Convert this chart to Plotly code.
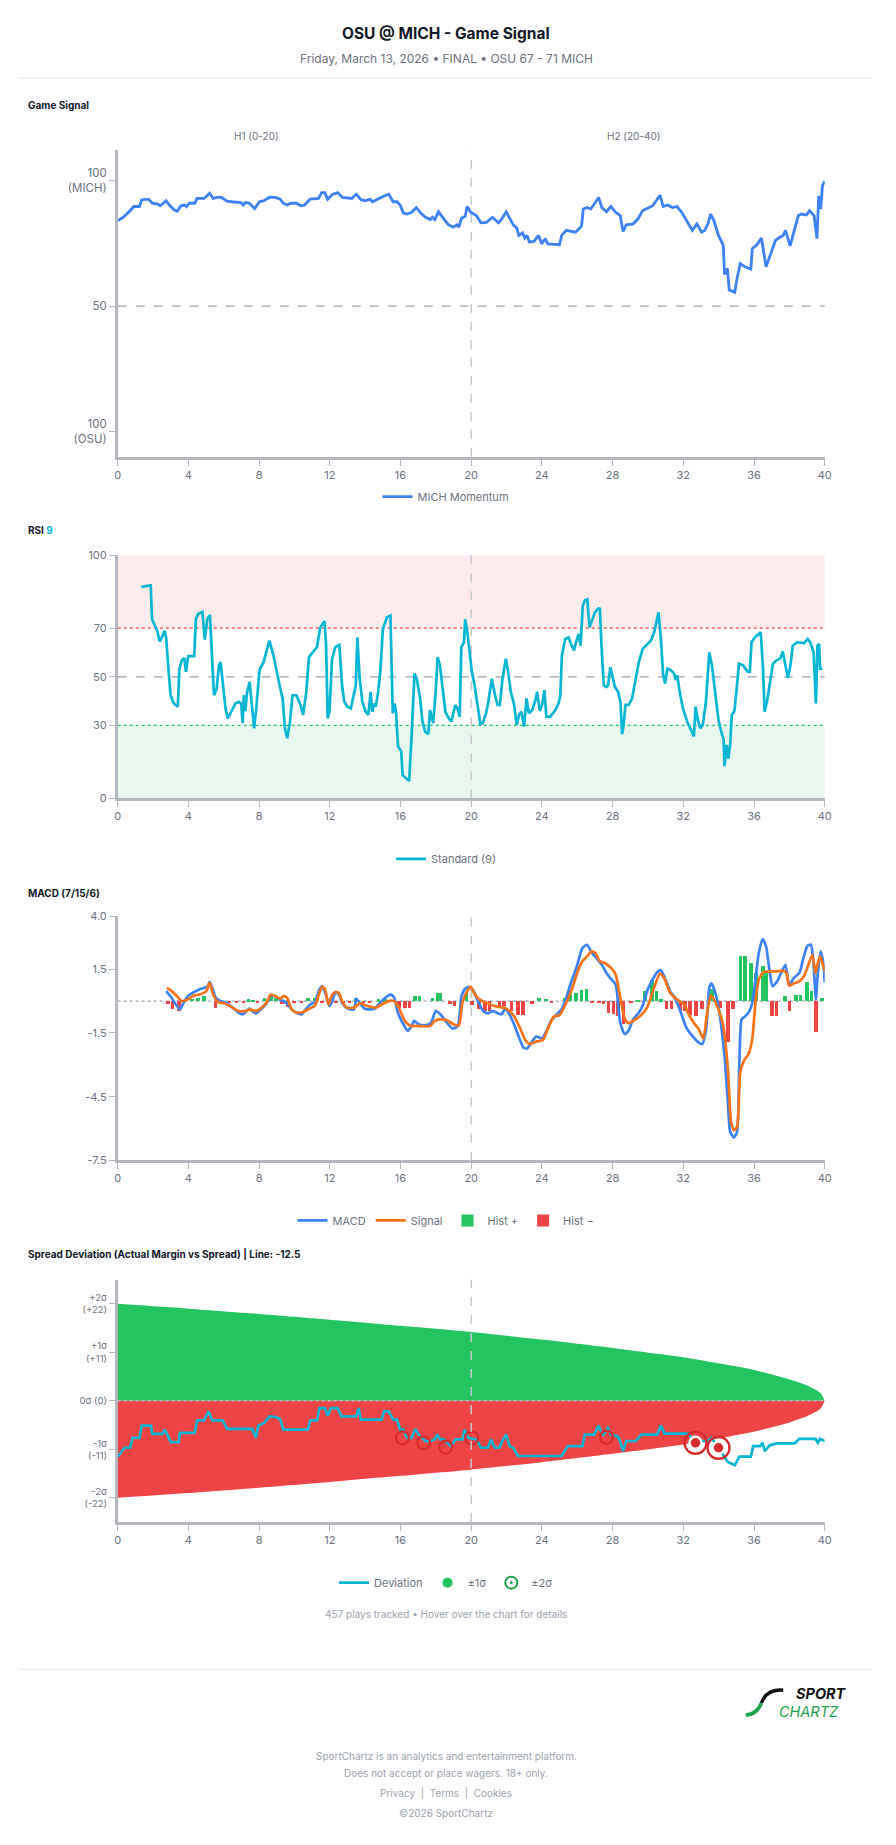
import plotly.graph_objects as go

# ---------------- DATA ----------------
x_ticks = [0, 4, 8, 12, 16, 20, 24, 28, 32, 36, 40]

# Game signal (MICH momentum, 0 = OSU 100, 100 = MICH 100)
gs_t = [0.00, 0.31, 0.70, 0.91, 1.23, 1.36, 1.75, 1.96, 2.27, 2.40, 2.58, 2.74, 2.92, 3.19, 3.37, 3.58, 3.79, 3.89,
        4.05, 4.36, 4.49, 4.75, 4.88, 5.01, 5.20, 5.40, 5.61, 5.87, 6.19, 6.45, 6.97, 7.10, 7.23, 7.44, 7.75, 8.02,
        8.28, 8.59, 8.93, 9.19, 9.37, 9.58, 9.79, 10.10, 10.37, 10.57, 10.89, 11.36, 11.54, 11.72, 11.88, 12.14,
        12.45, 12.72, 13.24, 13.50, 13.76, 14.02, 14.28, 14.41, 14.67, 15.07, 15.33, 15.46, 15.59, 15.80, 15.98,
        16.16, 16.37, 16.63, 16.89, 17.10, 17.42, 17.68, 17.81, 17.94, 18.15, 18.46, 18.72, 18.98, 19.19, 19.30,
        19.45, 19.66, 19.77, 19.97, 20.29, 20.55, 20.86, 21.20, 21.54, 21.72, 21.98, 22.38, 22.58, 22.69, 22.90,
        23.03, 23.16, 23.29, 23.55, 23.81, 23.99, 24.20, 24.33, 24.99, 25.12, 25.38, 25.77, 25.90, 26.24, 26.34,
        26.55, 26.76, 27.02, 27.21, 27.39, 27.65, 27.91, 28.17, 28.43, 28.59, 28.77, 29.16, 29.43, 29.69, 29.95,
        30.26, 30.47, 30.68, 30.86, 31.12, 31.38, 31.64, 31.91, 32.17, 32.51, 32.77, 33.03, 33.21, 33.39, 33.55,
        33.73, 33.99, 34.26, 34.33, 34.49, 34.60, 34.91, 35.04, 35.22, 35.48, 35.82, 35.90, 36.16, 36.42, 36.53,
        36.68, 36.95, 37.21, 37.47, 37.65, 37.78, 38.04, 38.25, 38.51, 38.69, 38.96, 39.14, 39.40, 39.56, 39.66,
        39.77, 39.87, 40.00]
gs_v = [84.0, 85.3, 87.9, 89.6, 89.6, 92.3, 92.5, 90.9, 90.6, 89.9, 90.9, 91.9, 90.2, 88.3, 87.7, 89.9, 90.2, 89.5,
        90.9, 90.9, 92.8, 93.0, 92.8, 93.6, 94.9, 92.8, 93.2, 93.2, 91.7, 91.5, 91.2, 90.2, 91.2, 90.9, 88.8, 91.5,
        91.9, 93.3, 93.2, 92.5, 90.9, 90.2, 90.9, 90.9, 89.9, 90.2, 92.5, 92.8, 95.1, 95.1, 92.5, 94.4,
        95.1, 93.2, 92.8, 94.5, 92.3, 91.9, 92.5, 91.5, 92.5, 93.8, 94.5, 93.2, 91.5, 91.5, 90.2,
        87.0, 86.6, 87.3, 89.2, 87.3, 85.3, 84.4, 85.3, 84.4, 87.5, 84.6, 82.3, 81.4, 82.3, 81.4,
        84.9, 85.7, 89.6, 87.3, 86.0, 83.1, 83.3, 85.3, 83.1, 84.6, 87.5, 82.3, 81.0, 78.1, 79.1,
        77.0, 78.1, 75.5, 75.7, 78.1, 74.8, 76.8, 74.7, 74.4, 78.1, 80.1, 79.7, 79.4, 81.8, 88.6,
        89.2, 88.6, 91.2, 93.2, 89.2, 87.5, 89.6, 87.3, 86.0, 79.7, 82.3, 82.7, 84.6, 87.9, 88.8,
        89.9, 91.9, 94.1, 89.6, 90.2, 89.2, 89.6, 87.3, 84.0, 80.1, 82.7, 79.4, 80.1, 82.7, 86.6,
        84.0, 78.1, 74.1, 62.6, 65.0, 56.4, 55.5, 61.0, 66.9, 65.6, 64.7, 72.8, 74.4, 77.0, 71.5,
        65.6, 70.9, 76.1, 77.4, 78.1, 80.1, 73.9, 79.4, 86.0, 86.6, 86.2, 87.9, 86.0, 76.8, 93.8,
        88.6, 97.8, 99.7]

# RSI (9)
rsi_t = [1.34, 1.87, 1.94, 2.09, 2.24, 2.37, 2.50, 2.65, 2.74, 2.84, 2.99, 3.17, 3.40, 3.49, 3.62, 3.77, 3.86, 3.99,
         4.33, 4.42, 4.55, 4.79, 4.93, 5.07, 5.22, 5.35, 5.45, 5.60, 5.73, 5.82, 5.97, 6.10, 6.23, 6.42, 6.66, 6.85,
         6.98, 7.07, 7.13, 7.22, 7.31, 7.46, 7.59, 7.72, 7.84, 8.02, 8.25, 8.40, 8.58, 8.81, 8.99, 9.18, 9.33, 9.46,
         9.59, 9.74, 9.89, 10.11, 10.34, 10.49, 10.67, 10.82, 11.04, 11.27, 11.46, 11.70, 11.79, 11.88, 11.98, 12.13,
         12.31, 12.54, 12.69, 12.82, 13.00, 13.19, 13.47, 13.56, 13.69, 13.84, 14.03, 14.18, 14.31, 14.40, 14.50,
         14.59, 14.74, 14.87, 15.00, 15.24, 15.43, 15.49, 15.56, 15.67, 15.75, 15.86, 16.04, 16.12, 16.42, 16.49,
         16.64, 16.79, 16.92, 17.11, 17.24, 17.39, 17.57, 17.67, 17.76, 17.85, 17.99, 18.10, 18.23, 18.36, 18.54,
         18.73, 18.88, 19.10, 19.22, 19.35, 19.44, 19.59, 19.66, 19.78, 19.85, 20.04, 20.19, 20.34, 20.52, 20.65,
         20.84, 20.97, 21.16, 21.31, 21.49, 21.62, 21.77, 21.96, 22.09, 22.24, 22.43, 22.57, 22.71, 22.84, 22.99,
         23.13, 23.26, 23.45, 23.63, 23.73, 23.88, 24.01, 24.14, 24.25, 24.48, 24.76, 24.94, 25.04, 25.13, 25.32,
         25.50, 25.69, 25.82, 25.93, 26.07, 26.19, 26.31, 26.44, 26.57, 26.69, 26.81, 27.00, 27.18, 27.28, 27.37,
         27.50, 27.65, 27.74, 27.87, 27.99, 28.13, 28.31, 28.44, 28.54, 28.62, 28.73, 28.92, 29.10, 29.29, 29.48,
         29.70, 29.98, 30.17, 30.35, 30.60, 30.73, 30.86, 30.97, 31.10, 31.29, 31.48, 31.57, 31.66, 31.79, 31.98,
         32.22, 32.41, 32.60, 32.69, 32.84, 32.97, 33.10, 33.28, 33.47, 33.62, 33.81, 33.99, 34.14, 34.28, 34.33,
         34.46, 34.55, 34.65, 34.74, 34.89, 35.02, 35.15, 35.39, 35.63, 35.76, 35.86, 36.04, 36.23, 36.38, 36.51,
         36.60, 36.75, 36.88, 37.07, 37.26, 37.50, 37.63, 37.76, 37.91, 38.06, 38.19, 38.43, 38.66, 38.84, 39.03,
         39.18, 39.37, 39.50, 39.59, 39.68, 39.74, 39.87]
rsi_v = [87.0, 87.6, 73.7, 71.2, 69.0, 64.5, 66.2, 69.0, 66.2, 56.0, 42.4, 39.0, 37.7, 53.3, 56.7, 57.7, 52.0, 58.5,
         58.5, 73.7, 75.8, 76.7, 65.3, 73.7, 75.4, 56.0, 42.4, 45.2, 54.7, 56.0, 46.5, 36.9, 32.9, 35.6, 39.0, 39.7,
         39.0, 30.9, 42.4, 35.9, 43.1, 47.9, 38.4, 28.8, 37.0, 52.7, 56.0, 60.1, 64.9, 58.8, 52.0, 45.8, 41.1, 28.8,
         24.7, 30.9, 42.4, 42.4, 38.4, 34.3, 43.8, 58.1, 60.1, 62.2, 70.3, 73.0, 62.8, 32.9, 35.6, 57.4,
         62.2, 63.1, 46.5, 39.7, 37.7, 37.0, 46.5, 66.2, 49.2, 39.7, 35.6, 34.3, 43.8, 35.6, 39.0,
         37.7, 43.8, 53.3, 69.7, 74.5, 75.2, 53.3, 35.0, 39.0, 35.0, 21.4, 19.3, 9.5, 7.7, 7.1,
         27.5, 51.3, 49.2, 41.1, 31.5, 27.5, 26.4, 36.3, 33.6, 30.9, 43.8, 58.1, 54.7, 46.5, 35.6,
         32.9, 31.5, 38.4, 37.0, 33.6, 62.2, 64.2, 73.7, 68.3, 63.5, 52.0, 46.5, 39.7, 30.5, 30.9,
         35.0, 39.7, 49.2, 43.8, 38.4, 38.4, 49.2, 57.4, 52.0, 43.8, 38.4, 30.2, 34.3, 35.6, 29.5,
         41.1, 35.0, 36.3, 40.4, 43.8, 35.9, 38.4, 44.5, 33.6, 33.6, 36.3, 39.0, 42.4, 58.8, 65.6,
         66.2, 62.8, 60.8, 64.2, 67.6, 62.8, 79.2, 81.6, 81.9, 70.3, 72.4, 76.5, 78.1, 78.0, 62.8,
         46.5, 45.8, 46.5, 54.0, 50.6, 45.8, 43.8, 39.7, 26.4, 30.2, 38.4, 38.4, 41.1, 47.9, 56.0,
         61.5, 63.5, 64.9, 68.3, 76.5, 65.6, 50.6, 47.2, 53.3, 52.7, 51.3, 48.6, 50.6, 43.8, 37.0,
         31.5, 28.1, 25.4, 37.7, 31.5, 28.8, 30.2, 39.7, 60.1, 54.7, 42.4, 32.2, 27.5, 24.1, 13.2,
         22.0, 16.3, 22.0, 34.3, 35.9, 45.2, 55.4, 54.7, 52.2, 52.0, 64.2, 66.2, 67.6, 68.3, 53.3,
         35.6, 40.4, 46.5, 55.4, 56.7, 57.7, 60.4, 56.0, 49.5, 54.7, 62.8, 64.2, 64.2, 63.9, 65.6,
         64.2, 60.1, 39.0, 62.8, 63.5, 53.3, 53.3]

# MACD (7/15/6)
macd_t = [2.74, 3.05, 3.32, 3.52, 3.71, 3.97, 4.31, 4.62, 4.88, 5.09, 5.20, 5.35, 5.54, 5.80, 6.14, 6.50, 6.84, 7.10,
          7.44, 7.62, 7.81, 8.07, 8.41, 8.67, 8.93, 9.19, 9.37, 9.58, 9.84, 10.10, 10.42, 10.63, 10.89, 11.15, 11.41,
          11.57, 11.80, 11.98, 12.14, 12.32, 12.51, 12.72, 13.03, 13.37, 13.50, 13.76, 13.97, 14.23, 14.54, 14.75,
          15.07, 15.46, 15.64, 15.85, 16.11, 16.42, 16.63, 16.76, 17.02, 17.42, 17.73, 17.99, 18.25, 18.59, 18.93,
          19.24, 19.45, 19.66, 19.90, 20.08, 20.34, 20.68, 20.94, 21.20, 21.46, 21.72, 21.91, 22.11, 22.38, 22.64,
          22.95, 23.16, 23.47, 23.68, 24.00, 24.26, 24.52, 24.78, 25.12, 25.38, 25.64, 25.98, 26.29, 26.55, 26.81,
          27.08, 27.39, 27.65, 27.91, 28.17, 28.43, 28.69, 28.90, 29.16, 29.48, 29.69, 30.00, 30.26, 30.52, 30.73,
          30.99, 31.25, 31.51, 31.83, 32.17, 32.51, 32.87, 33.08, 33.29, 33.47, 33.60, 33.86, 34.07, 34.33, 34.52,
          34.65, 34.86, 35.04, 35.17, 35.30, 35.48, 35.74, 35.90, 36.08, 36.27, 36.48, 36.68, 36.87, 37.05, 37.31,
          37.57, 37.78, 37.99, 38.25, 38.56, 38.82, 39.03, 39.22, 39.35, 39.50, 39.61, 39.77, 39.92, 40.00]
macd_v = [0.47, 0.16, -0.20, -0.39, -0.11, 0.23, 0.42, 0.55, 0.62, 0.70, 0.90, 0.62, 0.16, 0.00, -0.08, -0.31, -0.55,
          -0.62, -0.36, -0.47, -0.58, -0.42, -0.11, 0.26, 0.23, 0.05, 0.00, -0.11, -0.39, -0.55, -0.62, -0.39, -0.16,
          -0.05, 0.55, 0.70, 0.23, -0.23, 0.00, 0.42, 0.31, -0.11, -0.36, -0.39, 0.11, -0.16, -0.36, -0.39, -0.36,
          -0.16, 0.11, 0.30, 0.16, -0.55, -1.01, -1.40, -1.17, -0.93, -1.09, -1.14, -1.01, -0.47, -0.62, -0.98,
          -1.29, -1.17, 0.23, 0.58, 0.67, 0.55, 0.08, -0.47, -0.58, -0.47, -0.55, -0.62, -0.36, -0.55, -1.01,
          -1.56, -2.18, -2.23, -1.87, -1.67, -1.76, -1.40, -0.93, -0.67, -0.39, 0.16, 0.86, 1.64, 2.49, 2.65,
          2.29, 2.02, 1.71, 1.32, 1.04, 0.78, -1.01, -1.56, -1.40, -0.86, -0.55, -0.23, 0.58, 1.01, 1.36, 1.45,
          1.01, 0.47, 0.16, -0.47, -1.25, -1.64, -1.95, -2.02, -1.32, 0.62, 0.83, 0.23, -0.70, -2.57, -4.75,
          -6.15, -6.42, -6.15, -2.88, -0.86, -0.73, -0.47, -0.08, 1.01, 2.26, 2.91, 2.57, 1.48, 0.70, 0.93,
          1.40, 1.71, 0.73, 1.09, 1.32, 2.10, 2.60, 2.65, 1.95, 0.08, 1.32, 2.34, 1.79, 0.89]
sig_t = [2.79, 3.05, 3.32, 3.63, 3.97, 4.31, 4.62, 5.01, 5.20, 5.40, 5.67, 6.06, 6.40, 6.84, 7.23, 7.49, 7.81, 8.15,
         8.41, 8.67, 8.93, 9.19, 9.37, 9.58, 9.84, 10.16, 10.50, 10.76, 11.15, 11.41, 11.57, 11.72, 11.93, 12.14,
         12.32, 12.51, 12.72, 12.98, 13.37, 13.71, 14.02, 14.28, 14.60, 14.93, 15.33, 15.64, 15.90, 16.24, 16.58,
         16.95, 17.68, 17.94, 18.25, 18.59, 18.98, 19.30, 19.50, 19.71, 19.97, 20.16, 20.42, 20.76, 21.07, 21.46,
         21.91, 22.17, 22.43, 22.77, 23.03, 23.29, 23.63, 24.07, 24.33, 24.67, 24.99, 25.38, 25.72, 26.03, 26.29,
         26.55, 26.81, 27.02, 27.28, 27.55, 27.91, 28.17, 28.43, 28.69, 28.90, 29.16, 29.56, 29.95, 30.34, 30.68,
         30.94, 31.25, 31.64, 32.04, 32.35, 32.61, 32.87, 33.13, 33.34, 33.55, 33.73, 33.99, 34.26, 34.52, 34.70,
         34.86, 35.04, 35.22, 35.43, 35.69, 35.90, 36.08, 36.27, 36.53, 36.87, 37.26, 37.78, 37.99, 38.25, 38.56,
         38.82, 39.08, 39.30, 39.48, 39.61, 39.74, 39.87, 40.00]
sig_v = [0.62, 0.47, 0.26, 0.00, 0.08, 0.26, 0.31, 0.47, 0.86, 0.31, -0.05, -0.11, -0.26, -0.47, -0.47, -0.39, -0.47,
         -0.31, -0.08, 0.31, 0.23, 0.11, 0.23, 0.16, -0.39, -0.55, -0.51, -0.39, -0.23, 0.39, 0.67, 0.58, -0.16,
         0.31, 0.42, 0.39, -0.05, -0.31, -0.31, -0.11, -0.20, -0.26, -0.31, -0.16, 0.00, 0.00, -0.31, -0.93,
         -1.17, -1.17, -1.17, -0.93, -0.86, -0.89, -1.09, -1.14, -0.08, 0.36, 0.67, 0.39, 0.11, -0.05, -0.16,
         -0.26, -0.33, -0.47, -0.73, -1.29, -1.79, -2.02, -1.92, -1.82, -1.32, -0.73, -0.67, -0.08, 0.62, 1.40,
         1.87, 2.10, 2.34, 2.26, 1.87, 1.79, 1.56, 1.25, 0.16, -0.83, -1.04, -0.93, -0.70, -0.31, 0.62, 1.29,
         1.04, 0.39, 0.08, -0.16, -0.70, -1.04, -1.32, -1.76, -0.62, 0.26, 0.08, -0.39, -1.17, -3.19, -5.69,
         -6.07, -5.92, -3.35, -2.80, -2.49, -1.79, -0.08, 1.01, 1.36, 1.40, 1.40, 1.40, 0.73, 0.83, 0.93,
         1.17, 1.71, 2.18, 1.32, 1.79, 2.10, 1.79, 1.40]

hist_pos_t = [3.86, 4.20, 4.52, 4.88, 7.39, 7.65, 8.28, 8.67, 8.93, 10.76, 11.15, 13.45, 14.75, 15.12, 16.79, 17.05,
              17.78, 18.07, 18.25, 19.71, 23.81, 24.20, 25.25, 25.56, 25.90, 26.21, 26.50, 29.43, 29.82, 30.21,
              30.47, 30.73, 33.60, 35.22, 35.48, 35.80, 36.11, 36.48, 36.68, 37.73, 38.36, 38.62, 38.98, 39.24, 39.82]
hist_pos_v = [0.11, 0.11, 0.16, 0.23, 0.08, 0.05, 0.16, 0.26, 0.16, 0.16, 0.16, 0.16, 0.08, 0.08, 0.23, 0.23,
              0.16, 0.39, 0.39, 0.39, 0.16, 0.11, 0.16, 0.58, 0.39, 0.51, 0.55, 0.05, 0.47, 1.01,
              0.47, 0.08, 0.55, 2.13, 2.13, 1.79, 1.32, 1.64, 1.36, 0.23, 0.26, 0.26, 0.89, 0.47, 0.16]
hist_neg_t = [2.82, 3.08, 3.45, 5.51, 5.93, 6.32, 6.71, 7.10, 7.89, 9.27, 9.58, 9.97, 10.37, 11.54, 11.93, 12.32,
              12.72, 13.11, 13.89, 14.23, 15.90, 16.24, 16.50, 18.77, 19.03, 20.03, 20.42, 20.76, 21.02, 21.59,
              21.85, 22.25, 22.64, 22.90, 23.42, 24.52, 26.81, 27.21, 27.47, 27.75, 28.02, 28.28, 28.59, 29.03,
              31.04, 31.31, 31.83, 32.09, 32.35, 32.69, 33.03, 34.07, 34.52, 34.78, 37.00, 37.26, 37.99, 39.50]
hist_neg_v = [-0.16, -0.36, -0.47, -0.31, -0.08, -0.08, -0.08, -0.08, -0.08, -0.16, -0.26, -0.11, -0.08, -0.08,
              -0.08, -0.08, -0.08, -0.08, -0.08, -0.08, -0.31, -0.31, -0.31, -0.16, -0.23, -0.20, -0.39, -0.47,
              -0.47, -0.31, -0.23, -0.47, -0.67, -0.67, -0.16, -0.11, -0.11, -0.11, -0.16, -0.55, -0.62, -0.70,
              -1.09, -0.08, -0.36, -0.36, -0.47, -0.47, -0.67, -0.70, -0.36, -0.31, -1.95, -0.36, -0.70, -0.70,
              -0.47, -1.45]

# Spread deviation (actual margin vs spread, points)
dev_t = [0.00, 0.18, 0.39, 0.70, 0.84, 1.23, 1.36, 1.88, 1.96, 2.53, 2.66, 2.79, 3.00, 3.45, 3.52, 4.36, 4.49, 4.88,
         5.14, 5.35, 5.93, 6.19, 7.62, 7.81, 7.96, 8.28, 8.59, 8.93, 9.19, 9.37, 10.76, 10.89, 11.28, 11.41, 11.72,
         11.88, 12.06, 12.45, 12.66, 13.50, 13.63, 13.76, 14.93, 15.07, 15.33, 15.59, 15.80, 15.98, 16.16, 16.37,
         16.63, 16.84, 17.02, 17.42, 17.68, 17.94, 18.07, 18.25, 18.46, 18.85, 19.11, 19.50, 19.63, 19.82, 20.29,
         20.55, 20.94, 21.12, 21.33, 21.59, 21.80, 21.98, 22.17, 22.38, 22.64, 25.12, 25.46, 26.29, 26.42, 26.95,
         27.21, 27.34, 27.47, 27.73, 27.91, 28.25, 28.38, 28.59, 28.77, 29.30, 29.63, 30.52, 30.73, 30.94, 32.30,
         32.56, 33.34, 33.60, 33.99, 34.26, 34.52, 34.91, 35.17, 35.82, 35.95, 36.34, 36.48, 36.61, 36.87, 37.26,
         38.30, 38.56, 39.48, 39.61, 39.74, 40.00]
dev_v = [-12.66, -11.76, -10.64, -10.64, -8.39, -8.39, -5.62, -5.62, -7.49, -7.49, -6.52, -7.49, -9.36, -9.36, -7.27,
         -7.27, -4.42, -4.42, -2.40, -4.42, -4.42, -6.37, -6.37, -8.39, -5.62, -5.02, -3.52, -3.67, -4.12, -6.52,
         -6.52, -4.42, -4.42, -1.65, -1.65, -3.37, -1.65, -1.65, -3.52, -3.52, -1.65, -4.27, -4.27, -2.40, -2.40,
         -4.27, -4.27, -6.52, -6.52, -8.39, -8.39, -6.37, -7.64, -9.14, -9.14, -8.76, -7.64, -8.76, -8.76, -10.26,
         -8.76, -8.76, -6.52, -8.39, -8.76, -10.64, -10.64, -8.76, -10.64, -10.64, -8.76, -7.64, -10.26, -10.64,
         -12.51, -12.51, -10.26, -10.26, -7.64, -7.64, -5.62, -6.89, -7.64, -6.14, -7.64, -8.01, -8.61, -11.39,
         -9.14, -9.14, -7.64, -7.64, -5.62, -7.42, -7.42, -9.14, -9.14, -8.39, -10.64, -12.13, -13.86, -14.61,
         -12.66, -12.66, -10.26, -10.26, -9.51, -11.39, -10.11, -9.66, -9.66, -8.61, -8.61, -9.51, -8.61, -9.14]

# sigma envelope (points)
band_t = [0, 4, 8, 12, 16, 20, 24, 28, 32, 34, 36, 37, 38, 39, 39.5, 39.8, 40]
band_hi = [22.0, 20.9, 19.7, 18.4, 17.0, 15.6, 13.9, 12.0, 9.9, 8.5, 7.0, 6.0, 4.9, 3.5, 2.5, 1.6, 0.0]
band_lo = [-22.0, -20.9, -19.7, -18.4, -17.0, -15.6, -13.9, -12.0, -9.9, -8.5, -7.0, -6.0, -4.9, -3.5, -2.5, -1.6, 0.0]

# flagged plays (+-1 sigma rings / +-2 sigma double rings)
flag1_t = [16.11, 17.31, 18.56, 20.03, 27.65]
flag1_v = [-8.39, -9.51, -10.49, -8.39, -8.24]
flag2_t = [32.69, 33.99]
flag2_v = [-9.51, -10.64]

# ---------------- LAYOUT HELPERS ----------------
W, H = 896, 1845
FONT = "Inter, 'Noto Sans', sans-serif"
AXC = "#b4b7bd"
TICKC = "#6b7280"
BLUE = "#3b82f6"
ORANGE = "#f97316"
CYAN = "#06b6d4"
GREEN = "#22c55e"
RED = "#ef4444"


def px(x):
    return x / W


def py(y):
    return 1 - y / H


X0, X1 = 116, 831
PANELS = [(144.3, 453.3), (552.5, 797.3), (916.0, 1162.3), (1282.3, 1526.7)]

fig = go.Figure()

# Panel 1: game signal
fig.add_trace(go.Scatter(x=gs_t, y=gs_v, mode="lines", name="MICH Momentum",
                         line=dict(color=BLUE, width=2.8), xaxis="x", yaxis="y", legend="legend"))

# Panel 2: RSI
fig.add_trace(go.Scatter(x=rsi_t, y=rsi_v, mode="lines", name="Standard (9)",
                         line=dict(color=CYAN, width=2.7), xaxis="x2", yaxis="y2", legend="legend2"))

# Panel 3: MACD
fig.add_trace(go.Bar(x=hist_pos_t, y=hist_pos_v, name="Hist +", marker=dict(color=GREEN, line=dict(width=0)),
                     width=0.2, xaxis="x3", yaxis="y3", legend="legend3", legendrank=3))
fig.add_trace(go.Bar(x=hist_neg_t, y=hist_neg_v, name="Hist −", marker=dict(color=RED, line=dict(width=0)),
                     width=0.2, xaxis="x3", yaxis="y3", legend="legend3", legendrank=4))
fig.add_trace(go.Scatter(x=macd_t, y=macd_v, mode="lines", name="MACD",
                         line=dict(color=BLUE, width=2.7, shape="spline", smoothing=0.6),
                         xaxis="x3", yaxis="y3", legend="legend3", legendrank=1))
fig.add_trace(go.Scatter(x=sig_t, y=sig_v, mode="lines", name="Signal",
                         line=dict(color=ORANGE, width=2.7, shape="spline", smoothing=0.6),
                         xaxis="x3", yaxis="y3", legend="legend3", legendrank=2))

# Panel 4: spread deviation
fig.add_trace(go.Scatter(x=band_t, y=band_hi, mode="lines", fill="tozeroy", fillcolor=GREEN,
                         line=dict(width=0, color=GREEN, shape="spline", smoothing=0.4), showlegend=False,
                         hoverinfo="skip", xaxis="x4", yaxis="y4"))
fig.add_trace(go.Scatter(x=band_t, y=band_lo, mode="lines", fill="tozeroy", fillcolor=RED,
                         line=dict(width=0, color=RED, shape="spline", smoothing=0.4), showlegend=False,
                         hoverinfo="skip", xaxis="x4", yaxis="y4"))
fig.add_trace(go.Scatter(x=dev_t, y=dev_v, mode="lines", name="Deviation",
                         line=dict(color=CYAN, width=2.7), xaxis="x4", yaxis="y4", legend="legend4",
                         legendrank=1))
fig.add_trace(go.Scatter(x=flag1_t, y=flag1_v, mode="markers", showlegend=False,
                         marker=dict(symbol="circle-open", size=13, color="#d62a2a", line=dict(width=2.2)),
                         xaxis="x4", yaxis="y4"))
fig.add_trace(go.Scatter(x=flag2_t, y=flag2_v, mode="markers", showlegend=False,
                         marker=dict(symbol="circle-open", size=22, color="#d62a2a", line=dict(width=2.4)),
                         xaxis="x4", yaxis="y4"))
fig.add_trace(go.Scatter(x=flag2_t, y=flag2_v, mode="markers", showlegend=False,
                         marker=dict(symbol="circle", size=12, color="#d62a2a", line=dict(width=2.5, color="white")),
                         xaxis="x4", yaxis="y4"))
fig.add_trace(go.Scatter(x=[None], y=[None], mode="markers", name="±1σ",
                         marker=dict(symbol="circle", size=10, color=GREEN),
                         xaxis="x4", yaxis="y4", legend="legend4", legendrank=2))
fig.add_trace(go.Scatter(x=[None], y=[None], mode="markers", name="±2σ",
                         marker=dict(symbol="circle-open-dot", size=12, color="#16a34a", line=dict(width=2)),
                         xaxis="x4", yaxis="y4", legend="legend4", legendrank=3))

layout = dict(
    width=W, height=H, autosize=False,
    margin=dict(l=0, r=0, t=0, b=0),
    paper_bgcolor="white", plot_bgcolor="white",
    font=dict(family=FONT, color=TICKC, size=11),
    barmode="overlay", bargap=0,
    hovermode="closest",
)

y_specs = [
    dict(range=[-10, 112], tickvals=[0, 50, 100], ticktext=["100<br>(OSU)", "50", "100<br>(MICH)"], size=11.5),
    dict(range=[0, 100], tickvals=[0, 30, 50, 70, 100], ticktext=["0", "30", "50", "70", "100"], size=11),
    dict(range=[-7.5, 4.0], tickvals=[-7.5, -4.5, -1.5, 1.5, 4.0], ticktext=["-7.5", "-4.5", "-1.5", "1.5", "4.0"],
         size=11),
    dict(range=[-27.5, 27.5], tickvals=[-22, -11, 0, 11, 22],
         ticktext=["-2σ<br>(-22)", "-1σ<br>(-11)", "0σ (0)", "+1σ<br>(+11)", "+2σ<br>(+22)"], size=9.5),
]

for i, (top, bot) in enumerate(PANELS, start=1):
    sfx = "" if i == 1 else str(i)
    layout["xaxis" + sfx] = dict(
        domain=[px(X0), px(X1)], range=[0, 40], anchor="y" + sfx,
        tickvals=x_ticks, ticktext=[str(v) for v in x_ticks],
        showline=True, linecolor=AXC, linewidth=2.5, ticks="outside", ticklen=6, tickcolor=AXC, tickwidth=1,
        showgrid=False, zeroline=False, tickfont=dict(size=11, color=TICKC), fixedrange=True,
    )
    ys = y_specs[i - 1]
    layout["yaxis" + sfx] = dict(
        domain=[py(bot), py(top)], range=ys["range"], anchor="x" + sfx,
        tickvals=ys["tickvals"], ticktext=ys["ticktext"],
        showline=True, linecolor=AXC, linewidth=2.5, ticks="outside", ticklen=6, tickcolor=AXC, tickwidth=1,
        showgrid=False, zeroline=False, tickfont=dict(size=ys["size"], color=TICKC), fixedrange=True,
    )

legend_y = [493.3, 858.3, 1222.7, 1587.7]
for i, ly in enumerate(legend_y, start=1):
    key = "legend" if i == 1 else "legend%d" % i
    layout[key] = dict(orientation="h", x=0.5, xanchor="center", y=py(ly), yanchor="middle",
                       font=dict(size=11, color=TICKC), itemwidth=30, bgcolor="rgba(0,0,0,0)",
                       traceorder="normal", itemclick=False, itemdoubleclick=False)

fig.update_layout(**layout)

# ---------------- SHAPES ----------------
shapes = []
shapes.append(dict(type="line", xref="paper", yref="paper", x0=px(16), x1=px(880), y0=py(71.7), y1=py(71.7),
                   line=dict(color="#e3e5e8", width=1)))
shapes.append(dict(type="line", xref="paper", yref="paper", x0=px(16), x1=px(880), y0=py(1675), y1=py(1675),
                   line=dict(color="#e3e5e8", width=1)))
shapes.append(dict(type="rect", xref="x2 domain", yref="y2", x0=0, x1=1, y0=70, y1=100,
                   fillcolor="#fdeceb", line=dict(width=0), layer="below"))
shapes.append(dict(type="rect", xref="x2 domain", yref="y2", x0=0, x1=1, y0=0, y1=30,
                   fillcolor="#e9f8ee", line=dict(width=0), layer="below"))
shapes.append(dict(type="line", xref="x2 domain", yref="y2", x0=0, x1=1, y0=70, y1=70,
                   line=dict(color=RED, width=1.3, dash="dot"), layer="below"))
shapes.append(dict(type="line", xref="x2 domain", yref="y2", x0=0, x1=1, y0=30, y1=30,
                   line=dict(color=GREEN, width=1.3, dash="dot"), layer="below"))
shapes.append(dict(type="line", xref="x2 domain", yref="y2", x0=0, x1=1, y0=50, y1=50,
                   line=dict(color="#9ca3af", width=1.2, dash="dash"), layer="below"))
shapes.append(dict(type="line", xref="x domain", yref="y", x0=0, x1=1, y0=50, y1=50,
                   line=dict(color="#9ca3af", width=1.2, dash="dash"), layer="below"))
shapes.append(dict(type="line", xref="x3 domain", yref="y3", x0=0, x1=1, y0=0, y1=0,
                   line=dict(color="#9ca3af", width=1.2, dash="dot"), layer="below"))
for sfx, layer in [("", "below"), ("2", "below"), ("3", "below"), ("4", "above")]:
    shapes.append(dict(type="line", xref="x" + sfx, yref="y%s domain" % sfx, x0=20, x1=20, y0=0, y1=1,
                       line=dict(color="#c6c8cc", width=1.5, dash="dash"), layer=layer))
shapes.append(dict(type="line", xref="x4 domain", yref="y4", x0=0, x1=1, y0=0, y1=0,
                   line=dict(color="#b9bcc2", width=1.5, dash="dot"), layer="above"))


def pth(points):
    s = "M %f %f" % (px(points[0][0]), py(points[0][1]))
    for a, b, c, d in points[1:]:
        s += " Q %f %f %f %f" % (px(a), py(b), px(c), py(d))
    return s


shapes.append(dict(type="path", xref="paper", yref="paper",
                   path=pth([(789, 1696), (772, 1695, 767, 1709)]),
                   line=dict(color="#111111", width=3.5)))
shapes.append(dict(type="path", xref="paper", yref="paper",
                   path=pth([(767, 1709), (762, 1721, 751, 1721)]),
                   line=dict(color="#1aa34a", width=3.5)))
fig.update_layout(shapes=shapes)

# ---------------- ANNOTATIONS ----------------
ann = []


def txt(text, x, y, size, color, xanchor="center", family=FONT):
    ann.append(dict(text=text, x=px(x), y=py(y), xref="paper", yref="paper", showarrow=False,
                    xanchor=xanchor, yanchor="middle", font=dict(size=size, color=color, family=family),
                    borderpad=0))


txt("<b>OSU @ MICH - Game Signal</b>", 448, 27, 15.5, "#111827")
txt("Friday, March 13, 2026 • FINAL • OSU 67 - 71 MICH", 448, 52, 12, "#6b7280")
txt("<b>Game Signal</b>", 24, 99, 10, "#111827", "left")
txt("H1 (0-20)", 256, 130, 10, "#6b7280")
txt("H2 (20-40)", 638, 130, 10, "#6b7280")
txt("<b>RSI <span style='color:#06b6d4'>9</span></b>", 24, 527.5, 10, "#111827", "left")
txt("<b>MACD (7/15/6)</b>", 24, 893, 10, "#111827", "left")
txt("<b>Spread Deviation (Actual Margin vs Spread) | Line: -12.5</b>", 24, 1257.5, 10, "#111827", "left")
txt("457 plays tracked • Hover over the chart for details", 448, 1619, 10, "#9ca3af")
txt("<b><i>SPORT</i></b>", 828, 1699, 14.5, "#111111")
txt("<i>CHARTZ</i>", 815, 1718, 14.5, "#1aa34a")
txt("SportChartz is an analytics and entertainment platform.", 448, 1762, 10, "#9ca3af")
txt("Does not accept or place wagers. 18+ only.", 448, 1779, 10, "#9ca3af")
txt("Privacy  |  Terms  |  Cookies", 448, 1799.5, 10, "#9ca3af")
txt("©2026 SportChartz", 448, 1819.5, 10, "#9ca3af")
fig.update_layout(annotations=ann)

fig.write_html("out.html", config={"displayModeBar": False})
